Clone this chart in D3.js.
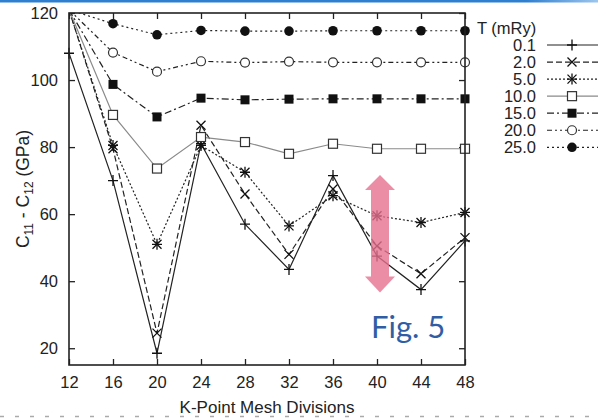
<!DOCTYPE html>
<html>
<head>
<meta charset="utf-8">
<script src="https://cdn.jsdelivr.net/npm/d3@7"></script>
<style>
  body { margin: 0; background: #fff; }
  svg { display: block; font-family: "Liberation Sans", Arial, sans-serif; }
</style>
</head>
<body>
<svg id="chart" width="598" height="418"></svg>
<script>
// k-point mesh divisions
const kpts = [12, 16, 20, 24, 28, 32, 36, 40, 44, 48];
// C11 - C12 (GPa) per smearing temperature T (mRy)
const t01 = [108, 70, 18.5, 81, 57, 43.5, 71.5, 47.5, 37.5, 52];
const t20 = [121, 79.5, 24.5, 86.5, 66, 48, 67.5, 50.5, 42.2, 53];
const t50 = [121, 80.5, 51, 80.5, 72.5, 56.5, 65.5, 59.5, 57.5, 60.5];
const t100 = [121, 89.6, 73.6, 83, 81.5, 78, 81, 79.5, 79.5, 79.5];
const t150 = [121, 98.7, 89, 94.6, 94.1, 94.3, 94.4, 94.4, 94.4, 94.4];
const t200 = [121, 108.2, 102.5, 105.6, 105.2, 105.5, 105.3, 105.3, 105.3, 105.3];
const t250 = [121, 116.8, 113.5, 114.8, 114.6, 114.6, 114.7, 114.7, 114.7, 114.7];
const tempLabels = ["0.1", "2.0", "5.0", "10.0", "15.0", "20.0", "25.0"];
const yTicks = [20, 40, 60, 80, 100, 120];

const series = [
  { name: tempLabels[0], values: t01, dash: null, color: "#222", marker: "plus" },
  { name: tempLabels[1], values: t20, dash: "6,3", color: "#222", marker: "cross" },
  { name: tempLabels[2], values: t50, dash: "2,2", color: "#222", marker: "star" },
  { name: tempLabels[3], values: t100, dash: null, color: "#8a8a8a", marker: "osquare" },
  { name: tempLabels[4], values: t150, dash: "7,3,2,3", color: "#222", marker: "fsquare" },
  { name: tempLabels[5], values: t200, dash: "5,3,2,3,2,3", color: "#222", marker: "ocircle" },
  { name: tempLabels[6], values: t250, dash: "2,3", color: "#222", marker: "fcircle" }
];

const svg = d3.select("#chart");
const margin = { left: 69, right: 133, top: 13, bottom: 53 };
const width = 598 - margin.left - margin.right;
const height = 418 - margin.top - margin.bottom;

const x = d3.scaleLinear().domain([12, 48]).range([0, width]);
const y = d3.scaleLinear().domain([15, 120]).range([height, 0]);

// blue slide rule at the top and dotted rule at the bottom
const defs = svg.append("defs");
const grad = defs.append("linearGradient").attr("id", "topbar");
grad.append("stop").attr("offset", "0%").attr("stop-color", "#2f7fd0");
grad.append("stop").attr("offset", "88%").attr("stop-color", "#2f7fd0");
grad.append("stop").attr("offset", "100%").attr("stop-color", "#9cc6ee");
svg.append("rect").attr("x", 0).attr("y", 0).attr("width", 598).attr("height", 2.5)
  .attr("fill", "url(#topbar)");
svg.append("line").attr("x1", 0).attr("x2", 598).attr("y1", 416.5).attr("y2", 416.5)
  .attr("stroke", "#aaa").attr("stroke-width", 1.5).attr("stroke-dasharray", "4,11");

defs.append("clipPath").attr("id", "plotclip")
  .append("rect").attr("width", width).attr("height", height);

const g = svg.append("g").attr("transform", "translate(" + margin.left + "," + margin.top + ")");

// axes (ticks inward, mirrored on top/right)
g.append("g").attr("transform", "translate(0," + height + ")")
  .call(d3.axisBottom(x).tickValues(kpts).tickSize(-6).tickPadding(11).tickFormat(d3.format("d")))
  .call(a => a.select(".domain").remove());
g.append("g")
  .call(d3.axisTop(x).tickValues(kpts).tickSize(-6).tickFormat(""))
  .call(a => a.select(".domain").remove());
g.append("g")
  .call(d3.axisLeft(y).tickValues(yTicks).tickSize(-6).tickPadding(11))
  .call(a => a.select(".domain").remove());
g.append("g").attr("transform", "translate(" + width + ",0)")
  .call(d3.axisRight(y).tickValues(yTicks).tickSize(-6).tickFormat(""))
  .call(a => a.select(".domain").remove());
g.selectAll(".tick line").attr("stroke", "#222").attr("stroke-width", 1.3);
g.selectAll(".tick text").attr("fill", "#222").style("font-size", "16.5px")
  .style("font-family", "'Liberation Sans', Arial, sans-serif");

const line = d3.line().x((d, i) => x(kpts[i])).y(d => y(d));

const lines = g.append("g").attr("clip-path", "url(#plotclip)");
series.forEach(s => {
  lines.append("path").datum(s.values)
    .attr("d", line)
    .attr("fill", "none")
    .attr("stroke", s.color)
    .attr("stroke-width", 1.2)
    .attr("stroke-dasharray", s.dash);
});

function drawMarker(sel, type, cx, cy) {
  const m = sel.append("g").attr("transform", "translate(" + cx + "," + cy + ")");
  const ink = "#111";
  if (type === "plus" || type === "star") {
    m.append("path").attr("d", "M-5,0H5M0,-5.5V5.5").attr("stroke", ink).attr("stroke-width", 1.3);
  }
  if (type === "cross" || type === "star") {
    m.append("path").attr("d", "M-4.5,-4.5L4.5,4.5M-4.5,4.5L4.5,-4.5").attr("stroke", ink).attr("stroke-width", 1.3);
  }
  if (type === "osquare") {
    m.append("rect").attr("x", -4.5).attr("y", -4.5).attr("width", 9).attr("height", 9)
      .attr("fill", "#fff").attr("stroke", "#333").attr("stroke-width", 1.2);
  }
  if (type === "fsquare") {
    m.append("rect").attr("x", -4.5).attr("y", -4.5).attr("width", 9).attr("height", 9).attr("fill", ink);
  }
  if (type === "ocircle") {
    m.append("circle").attr("r", 4.5).attr("fill", "#fff").attr("stroke", "#333").attr("stroke-width", 1.2);
  }
  if (type === "fcircle") {
    m.append("circle").attr("r", 4.8).attr("fill", ink);
  }
}

const markers = g.append("g");
series.forEach(s => {
  s.values.forEach((v, i) => {
    if (v <= 120) drawMarker(markers, s.marker, x(kpts[i]), y(v));
  });
});

// plot frame
g.append("rect").attr("width", width).attr("height", height)
  .attr("fill", "none").attr("stroke", "#222").attr("stroke-width", 1.6);

// axis titles
svg.append("text")
  .attr("x", margin.left + width / 2).attr("y", 413)
  .attr("text-anchor", "middle").style("font-size", "17px").attr("fill", "#222")
  .text("K-Point Mesh Divisions");

const yt = svg.append("text")
  .attr("transform", "translate(29," + (margin.top + height / 2) + ") rotate(-90)")
  .attr("text-anchor", "middle").style("font-size", "17.5px").attr("fill", "#222");
yt.append("tspan").text("C");
yt.append("tspan").attr("dy", 4).style("font-size", "12px").text("11");
yt.append("tspan").attr("dy", -4).text(" - C");
yt.append("tspan").attr("dy", 4).style("font-size", "12px").text("12");
yt.append("tspan").attr("dy", -4).text(" (GPa)");

// legend
const leg = svg.append("g");
leg.append("text").attr("x", 477).attr("y", 34).style("font-size", "16.5px").attr("fill", "#222")
  .text("T (mRy)");
series.forEach((s, i) => {
  const cy = 45 + i * 17.05;
  leg.append("text").attr("x", 536).attr("y", cy + 6).attr("text-anchor", "end")
    .style("font-size", "16.5px").attr("fill", "#222").text(s.name);
  leg.append("line").attr("x1", 547).attr("x2", 600).attr("y1", cy).attr("y2", cy)
    .attr("stroke", s.color).attr("stroke-width", 1.2).attr("stroke-dasharray", s.dash);
  drawMarker(leg, s.marker, 572, cy);
});

// pink double arrow annotation
const ax = x(40) + 3;
const aTop = y(71.7), aBot = y(36.6);
const arrow = d3.path();
arrow.moveTo(ax, aTop);
arrow.lineTo(ax + 15, aTop + 15);
arrow.lineTo(ax + 9, aTop + 15);
arrow.lineTo(ax + 9, aBot - 16);
arrow.lineTo(ax + 15, aBot - 16);
arrow.lineTo(ax, aBot);
arrow.lineTo(ax - 15, aBot - 16);
arrow.lineTo(ax - 9, aBot - 16);
arrow.lineTo(ax - 9, aTop + 15);
arrow.lineTo(ax - 15, aTop + 15);
arrow.closePath();
g.append("path").attr("d", arrow.toString())
  .attr("fill", "#e5708f").attr("fill-opacity", 0.8);

svg.append("text").attr("x", 371).attr("y", 338)
  .style("font-family", "Lato, 'Noto Sans', sans-serif").style("font-size", "31px")
  .attr("fill", "#2f5ea6").text("Fig. 5");
</script>
</body>
</html>
